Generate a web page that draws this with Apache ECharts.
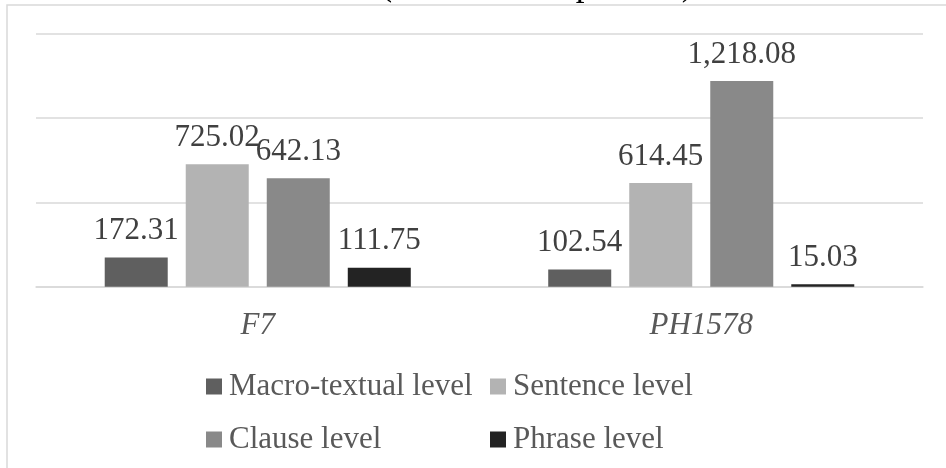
<!DOCTYPE html>
<html>
<head>
<meta charset="utf-8">
<script src="https://cdn.jsdelivr.net/npm/echarts@6/dist/echarts.min.js"></script>
<style>
  html, body { margin: 0; padding: 0; background: #fff; }
  #chart { width: 946px; height: 468px; }
</style>
</head>
<body>
<div id="chart"></div>
<script>
// Categories (texts) and the four linguistic levels
const categories = ['F7', 'PH1578'];
const macroTextual = [172.31, 102.54];
const sentence = [725.02, 614.45];
const clause = [642.13, 1218.08];
const phrase = [111.75, 15.03];

const seriesNames = ['Macro-textual level', 'Sentence level', 'Clause level', 'Phrase level'];
const seriesData = [macroTextual, sentence, clause, phrase];
const seriesColors = ['#5f5f5f', '#b3b3b3', '#898989', '#232323'];

const serif = '"Liberation Serif", "Times New Roman", serif';

const fmt = v => v.toLocaleString('en-US', { minimumFractionDigits: 2, maximumFractionDigits: 2 });

const chart = echarts.init(document.getElementById('chart'), null, { renderer: 'canvas' });

const legendText = {
  fontFamily: serif,
  fontSize: 31,
  color: '#595959',
  lineHeight: 30,
  padding: [0, 0, 0, 2]
};

chart.setOption({
  backgroundColor: '#ffffff',
  animation: false,
  graphic: [
    {
      type: 'rect',
      z: -10,
      shape: { x: 7, y: 5, width: 1200, height: 1200 },
      style: { fill: 'none', stroke: '#d9d9d9', lineWidth: 1.5 }
    },
    {
      type: 'text',
      x: 537,
      y: -14,
      style: {
        text: '(Occurrences per text)',
        font: '35px ' + serif,
        fill: '#000000',
        align: 'center',
        verticalAlign: 'middle'
      }
    }
  ],
  legend: [
    {
      orient: 'vertical',
      left: 206,
      top: 371,
      padding: 0,
      itemWidth: 16,
      itemHeight: 16,
      itemGap: 22,
      icon: 'rect',
      data: [seriesNames[0], seriesNames[2]],
      textStyle: legendText
    },
    {
      orient: 'vertical',
      left: 490,
      top: 371,
      padding: 0,
      itemWidth: 16,
      itemHeight: 16,
      itemGap: 22,
      icon: 'rect',
      data: [seriesNames[1], seriesNames[3]],
      textStyle: legendText
    }
  ],
  grid: {
    left: 36,
    right: 23,
    top: 33.5,
    bottom: 181.3,
    containLabel: false
  },
  xAxis: {
    type: 'category',
    data: categories,
    axisTick: { show: false },
    axisLine: { lineStyle: { color: '#d9d9d9', width: 1.5 } },
    axisLabel: {
      margin: 24,
      fontFamily: serif,
      fontStyle: 'italic',
      fontSize: 31,
      color: '#595959'
    }
  },
  yAxis: {
    type: 'value',
    min: 0,
    max: 1500,
    interval: 500,
    axisLabel: { show: false },
    axisLine: { show: false },
    axisTick: { show: false },
    splitLine: { lineStyle: { color: '#d9d9d9', width: 1.5 } }
  },
  series: seriesNames.map((name, i) => ({
    name: name,
    type: 'bar',
    data: seriesData[i],
    barWidth: 63,
    barGap: '28.6%',
    itemStyle: { color: seriesColors[i] },
    label: {
      show: true,
      position: 'top',
      distance: 11,
      fontFamily: serif,
      fontSize: 31,
      color: '#404040',
      formatter: p => fmt(p.value)
    }
  }))
});
</script>
</body>
</html>
